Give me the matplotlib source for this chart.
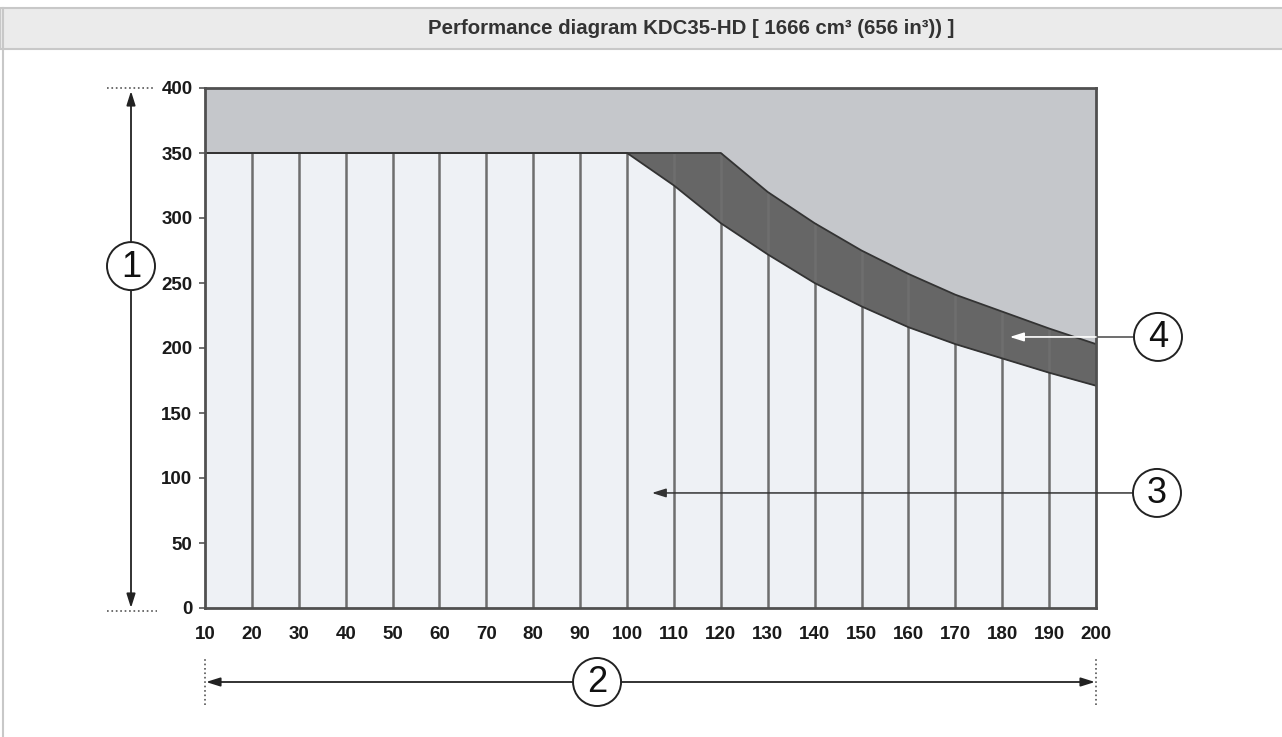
import matplotlib
matplotlib.use('Agg')
import matplotlib.pyplot as plt
from matplotlib.patches import Circle, Rectangle, FancyArrowPatch
from matplotlib.lines import Line2D
import numpy as np

plt.rcParams['font.family'] = ['Liberation Sans', 'DejaVu Sans']

# speed axis and torque limits
speed = [10, 20, 30, 40, 50, 60, 70, 80, 90, 100,
         110, 120, 130, 140, 150, 160, 170, 180, 190, 200]
peak_limit = [350, 350, 350, 350, 350, 350, 350, 350, 350, 350,
              350, 350, 320, 296, 275, 257, 241, 228, 215, 203]
cont_limit = [350, 350, 350, 350, 350, 350, 350, 350, 350, 350,
              325, 296, 272, 250, 232, 216, 203, 192, 181, 171]
y_ticks = [0, 50, 100, 150, 200, 250, 300, 350, 400]
title = 'Performance diagram KDC35-HD [ 1666 cm³ (656 in³)) ]'

W, H = 1282, 737
fig = plt.figure(figsize=(W / 100, H / 100), dpi=100)
fig.patch.set_facecolor('white')

# title band and left border
fig.patches.append(Rectangle((0, (H - 49) / H), 1.2, 41 / H, transform=fig.transFigure,
                             facecolor='#ebebeb', edgecolor='#c8c8c8', lw=1.5, zorder=0))
fig.add_artist(Line2D([3 / W, 3 / W], [0, (H - 8) / H], transform=fig.transFigure,
                      color='#c8c8c8', lw=1.5))
fig.text(691 / W, (H - 28) / H, title, ha='center', va='center',
         fontsize=14.7, fontweight='bold', color='#333333')

ax = fig.add_axes([205 / W, 129 / H, 891 / W, 520 / H])
ax.set_xlim(10, 200)
ax.set_ylim(0, 400)
ax.set_facecolor('#c5c7cb')

ax.fill_between(speed, 0, peak_limit, color='#666666', lw=0, zorder=1)
ax.fill_between(speed, 0, cont_limit, color='#eef1f5', lw=0, zorder=2)
ax.vlines(speed[1:-1], 0, peak_limit[1:-1], color='#6e6e6e', lw=1.8, zorder=3)
ax.plot(speed, peak_limit, color='#333333', lw=1.3, zorder=4)
ax.plot(speed, cont_limit, color='#333333', lw=1.3, zorder=4)

ax.set_xticks(speed)
ax.set_yticks(y_ticks)
ax.tick_params(axis='x', length=0, pad=13, labelsize=13.5, labelcolor='#1a1a1a')
ax.tick_params(axis='y', length=4, width=1.2, color='#555555', pad=5,
               labelsize=13.5, labelcolor='#1a1a1a')
for lab in ax.get_xticklabels() + ax.get_yticklabels():
    lab.set_fontweight('bold')
for s in ax.spines.values():
    s.set_color('#505050')
    s.set_linewidth(2)
    s.set_zorder(6)

# overlay in figure pixels for the callouts
ov = fig.add_axes([0, 0, 1, 1], zorder=10)
ov.set_xlim(0, W)
ov.set_ylim(0, H)
ov.axis('off')
ov.patch.set_alpha(0)


def px(x, y):
    return ax.transData.transform((x, y))


def badge(cx, cy, label):
    ov.add_patch(Circle((cx, cy), 24, facecolor='white', edgecolor='#222222', lw=1.4, zorder=12))
    ov.text(cx, cy - 1, label, ha='center', va='center', fontsize=26, color='#111111',
            fontfamily='Liberation Sans', zorder=13)


def arrow(p0, p1, style, color, lw=1.3, hl=0.7, hw=0.22):
    ov.add_patch(FancyArrowPatch(p0, p1, arrowstyle=f'{style},head_length={hl},head_width={hw}',
                                 color=color, lw=lw, shrinkA=0, shrinkB=0,
                                 mutation_scale=12, zorder=11))


# 1 : torque range
x0, ytop = px(10, 400)
_, ybot = px(10, 0)
ov.plot([107, 153], [ytop, ytop], ls=':', color='#555555', lw=1.2)
ov.plot([107, 157], [ybot - 3, ybot - 3], ls=':', color='#555555', lw=1.2)
arrow((131, ybot), (131, ytop - 3), '<|-|>', '#222222')
badge(131, px(10, 263)[1], '1')

# 2 : speed range
xl, _ = px(10, 0)
xr, _ = px(200, 0)
ya = H - 682
ov.plot([xl, xl], [H - 705, H - 657], ls=':', color='#555555', lw=1.2)
ov.plot([xr, xr], [H - 705, H - 657], ls=':', color='#555555', lw=1.2)
arrow((xl + 1, ya), (xr - 1, ya), '<|-|>', '#222222')
badge(px(93.6, 0)[0], ya, '2')

# 3 : continuous operation area
c3 = (1157, px(10, 88.5)[1])
tip3 = px(105.3, 88.5)
arrow((c3[0] - 24, c3[1]), tip3, '-|>', '#333333', lw=1.1)
badge(c3[0], c3[1], '3')

# 4 : peak operation area
c4 = (1158, px(10, 208.5)[1])
edge4 = px(200, 208.5)
tip4 = px(181.6, 208.5)
ov.plot([c4[0] - 24, edge4[0]], [c4[1], c4[1]], color='#555555', lw=1.2, zorder=11)
arrow(edge4, tip4, '-|>', 'white', lw=1.2)
badge(c4[0], c4[1], '4')

fig.savefig('out.png', dpi=100)
